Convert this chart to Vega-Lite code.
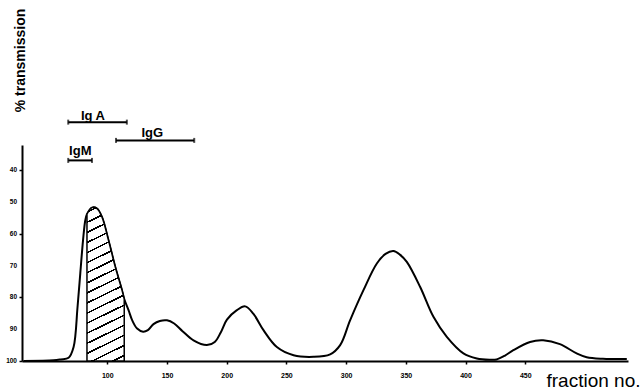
{
  "$schema": "https://vega.github.io/schema/vega-lite/v6.json",
  "width": 606,
  "height": 216,
  "autosize": {"type": "none"},
  "padding": {"left": 22, "top": 145, "right": 13, "bottom": 31},
  "background": "white",
  "config": {"view": {"stroke": null}, "font": "Liberation Sans", "axis": {"labelOverlap": false, "labelFlush": false, "labelBound": false}},
  "datasets": {
    "curve": [
      {"u": 30, "v": 100}, {"u": 55, "v": 99.8}, {"u": 61, "v": 99.5}, {"u": 67.6, "v": 99},
      {"u": 71.8, "v": 95.6}, {"u": 75.1, "v": 83}, {"u": 77.4, "v": 72.4}, {"u": 79.7, "v": 62},
      {"u": 81.6, "v": 55.7}, {"u": 83, "v": 53.8}, {"u": 87.2, "v": 51.7}, {"u": 91.4, "v": 52},
      {"u": 95.6, "v": 54.7}, {"u": 101, "v": 62}, {"u": 106.7, "v": 70.4}, {"u": 112.3, "v": 77.7},
      {"u": 114.2, "v": 80.5}, {"u": 117.8, "v": 84}, {"u": 121, "v": 87.3}, {"u": 125, "v": 89.8},
      {"u": 130, "v": 90.8}, {"u": 134, "v": 90.3}, {"u": 138.7, "v": 88.4}, {"u": 144, "v": 87.4},
      {"u": 150, "v": 87.2}, {"u": 156, "v": 88.2}, {"u": 163, "v": 90.6}, {"u": 172.2, "v": 93.5},
      {"u": 183.4, "v": 95}, {"u": 190, "v": 94}, {"u": 195, "v": 91}, {"u": 200.2, "v": 87},
      {"u": 208.5, "v": 84}, {"u": 215.5, "v": 82.8}, {"u": 222.4, "v": 85.2}, {"u": 230.8, "v": 90.3},
      {"u": 242, "v": 95.6}, {"u": 256, "v": 98.2}, {"u": 272.6, "v": 98.7}, {"u": 286.6, "v": 97.9},
      {"u": 295, "v": 95}, {"u": 303.3, "v": 87.2}, {"u": 314.5, "v": 77.7}, {"u": 325.7, "v": 69.3},
      {"u": 333, "v": 66.3}, {"u": 339.6, "v": 65.4}, {"u": 345, "v": 66.5}, {"u": 350.8, "v": 68.8},
      {"u": 362, "v": 76.7}, {"u": 373.1, "v": 86.1}, {"u": 384.3, "v": 92.4}, {"u": 398.2, "v": 97.6},
      {"u": 409.4, "v": 99.2}, {"u": 420, "v": 99.6}, {"u": 426, "v": 99.5}, {"u": 433, "v": 98.3},
      {"u": 440, "v": 96.6}, {"u": 454, "v": 94}, {"u": 465, "v": 93.5}, {"u": 479, "v": 94.7},
      {"u": 493, "v": 97.6}, {"u": 501.4, "v": 98.8}, {"u": 515, "v": 99.3}, {"u": 535, "v": 99.4}
    ],
    "bars": [
      {"label": "Ig A", "u": 67.3, "u2": 116.4, "v": 24.8, "tu": 88.0, "tv": 24.0},
      {"label": "IgG", "u": 107.3, "u2": 172.8, "v": 30.55, "tu": 137.7, "tv": 29.6},
      {"label": "IgM", "u": 67.3, "u2": 87.2, "v": 36.85, "tu": 77.4, "tv": 35.3}
    ],
    "ylabels": [
      {"v": 40, "label": "40"}, {"v": 50, "label": "50"}, {"v": 60, "label": "60"},
      {"v": 70, "label": "70"}, {"v": 80, "label": "80"}, {"v": 90, "label": "90"},
      {"v": 100, "label": "100"}
    ]
  },
  "layer": [
    {
      "data": {"name": "curve"},
      "mark": {"type": "line", "interpolate": "catmull-rom", "color": "black", "strokeWidth": 2},
      "encoding": {
        "x": {
          "field": "u", "type": "quantitative",
          "scale": {"domain": [28.6, 536], "nice": false, "zero": false},
          "axis": {
            "title": "fraction no.",
            "titleFontSize": 19, "titleFontWeight": "normal", "titleColor": "black",
            "titleAlign": "left", "titleBaseline": "alphabetic", "titleX": 524, "titleY": 25.5,
            "values": [100, 150, 200, 250, 300, 350, 400, 450],
            "grid": false, "domainColor": "black", "domainWidth": 2,
            "tickColor": "black", "tickWidth": 1.5, "tickSize": 3,
            "labelOverlap": false, "labelFlush": false,
            "labelFontSize": 7, "labelFontWeight": "bold", "labelColor": "black", "labelPadding": 7
          }
        },
        "y": {
          "field": "v", "type": "quantitative",
          "scale": {"domain": [32, 100], "reverse": true, "nice": false, "zero": false},
          "axis": {
            "title": "% transmission",
            "titleFontSize": 14, "titleFontWeight": "bold", "titleColor": "black",
            "titleAngle": -90, "titleAlign": "center", "titleBaseline": "middle", "titleX": -2, "titleY": -85,
            "values": [40, 50, 60, 70, 80, 90, 100],
            "grid": false, "domainColor": "black", "domainWidth": 2,
            "tickColor": "black", "tickWidth": 1.5, "tickSize": 3,
            "labels": false
          }
        }
      }
    },
    {
      "data": {"name": "curve"},
      "transform": [{"filter": "datum.u >= 83 && datum.u <= 114.2"}],
      "mark": {
        "type": "area",
        "interpolate": "catmull-rom",
        "stroke": "black",
        "strokeWidth": 1.5,
        "fill": {
          "gradient": "linear",
          "x1": 0, "y1": 0, "x2": 0.13, "y2": 1.1,
          "stops": [
            {"offset": 0, "color": "white"},
            {"offset": 0.024, "color": "white"}, {"offset": 0.024, "color": "black"}, {"offset": 0.034, "color": "black"}, {"offset": 0.034, "color": "white"},
            {"offset": 0.0828, "color": "white"}, {"offset": 0.0828, "color": "black"}, {"offset": 0.0928, "color": "black"}, {"offset": 0.0928, "color": "white"},
            {"offset": 0.1416, "color": "white"}, {"offset": 0.1416, "color": "black"}, {"offset": 0.1516, "color": "black"}, {"offset": 0.1516, "color": "white"},
            {"offset": 0.2005, "color": "white"}, {"offset": 0.2005, "color": "black"}, {"offset": 0.2105, "color": "black"}, {"offset": 0.2105, "color": "white"},
            {"offset": 0.2593, "color": "white"}, {"offset": 0.2593, "color": "black"}, {"offset": 0.2693, "color": "black"}, {"offset": 0.2693, "color": "white"},
            {"offset": 0.3181, "color": "white"}, {"offset": 0.3181, "color": "black"}, {"offset": 0.3281, "color": "black"}, {"offset": 0.3281, "color": "white"},
            {"offset": 0.3769, "color": "white"}, {"offset": 0.3769, "color": "black"}, {"offset": 0.3869, "color": "black"}, {"offset": 0.3869, "color": "white"},
            {"offset": 0.4358, "color": "white"}, {"offset": 0.4358, "color": "black"}, {"offset": 0.4458, "color": "black"}, {"offset": 0.4458, "color": "white"},
            {"offset": 0.4946, "color": "white"}, {"offset": 0.4946, "color": "black"}, {"offset": 0.5046, "color": "black"}, {"offset": 0.5046, "color": "white"},
            {"offset": 0.5534, "color": "white"}, {"offset": 0.5534, "color": "black"}, {"offset": 0.5634, "color": "black"}, {"offset": 0.5634, "color": "white"},
            {"offset": 0.6122, "color": "white"}, {"offset": 0.6122, "color": "black"}, {"offset": 0.6222, "color": "black"}, {"offset": 0.6222, "color": "white"},
            {"offset": 0.6711, "color": "white"}, {"offset": 0.6711, "color": "black"}, {"offset": 0.6811, "color": "black"}, {"offset": 0.6811, "color": "white"},
            {"offset": 0.7299, "color": "white"}, {"offset": 0.7299, "color": "black"}, {"offset": 0.7399, "color": "black"}, {"offset": 0.7399, "color": "white"},
            {"offset": 0.7887, "color": "white"}, {"offset": 0.7887, "color": "black"}, {"offset": 0.7987, "color": "black"}, {"offset": 0.7987, "color": "white"},
            {"offset": 0.8475, "color": "white"}, {"offset": 0.8475, "color": "black"}, {"offset": 0.8575, "color": "black"}, {"offset": 0.8575, "color": "white"},
            {"offset": 0.9064, "color": "white"}, {"offset": 0.9064, "color": "black"}, {"offset": 0.9164, "color": "black"}, {"offset": 0.9164, "color": "white"},
            {"offset": 0.9652, "color": "white"}, {"offset": 0.9652, "color": "black"}, {"offset": 0.9752, "color": "black"}, {"offset": 0.9752, "color": "white"},
            {"offset": 1, "color": "white"}
          ]
        }
      },
      "encoding": {
        "x": {"field": "u", "type": "quantitative"},
        "y": {"field": "v", "type": "quantitative"},
        "y2": {"datum": 100}
      }
    },
    {
      "data": {"name": "bars"},
      "mark": {"type": "rule", "color": "black", "strokeWidth": 2},
      "encoding": {
        "x": {"field": "u", "type": "quantitative"},
        "x2": {"field": "u2"},
        "y": {"field": "v", "type": "quantitative"}
      }
    },
    {
      "data": {"name": "bars"},
      "transform": [{"fold": ["u", "u2"], "as": ["end", "ux"]}],
      "mark": {"type": "tick", "orient": "vertical", "color": "black", "size": 5, "thickness": 2},
      "encoding": {
        "x": {"field": "ux", "type": "quantitative"},
        "y": {"field": "v", "type": "quantitative"}
      }
    },
    {
      "data": {"name": "bars"},
      "mark": {"type": "text", "color": "black", "fontSize": 13, "fontWeight": "bold", "align": "center", "baseline": "alphabetic"},
      "encoding": {
        "x": {"field": "tu", "type": "quantitative"},
        "y": {"field": "tv", "type": "quantitative"},
        "text": {"field": "label"}
      }
    },
    {
      "data": {"name": "ylabels"},
      "mark": {"type": "text", "color": "black", "fontSize": 6.5, "fontWeight": "bold", "align": "right", "baseline": "middle", "dx": -5},
      "encoding": {
        "x": {"datum": 28.6, "type": "quantitative"},
        "y": {"field": "v", "type": "quantitative"},
        "text": {"field": "label"}
      }
    }
  ]
}
